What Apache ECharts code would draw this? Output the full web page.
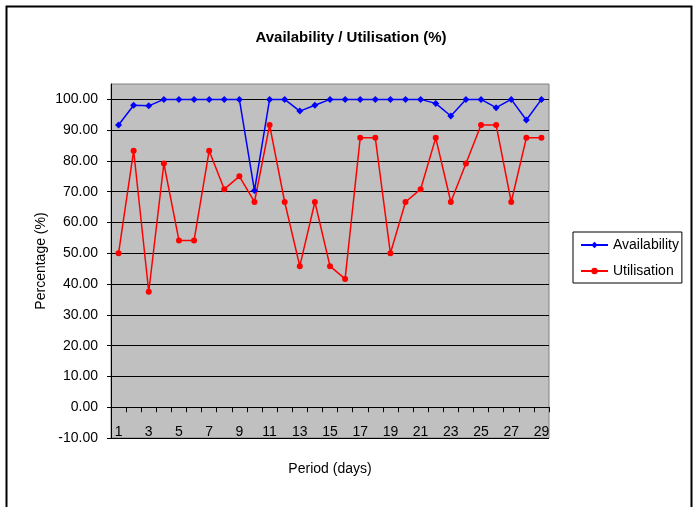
<!DOCTYPE html>
<html><head><meta charset="utf-8">
<script src="https://cdn.jsdelivr.net/npm/echarts@6/dist/echarts.min.js"></script>
<style>html,body{margin:0;padding:0;background:#fff}#c{width:698px;height:507px}</style>
</head><body><div id="c"></div>
<script>
const periods = ['1','2','3','4','5','6','7','8','9','10','11','12','13','14','15','16','17','18','19','20','21','22','23','24','25','26','27','28','29'];
const availability = [91.67,98.1,97.9,100,100,100,100,100,100,70.4,100,100,96.2,98.1,100,100,100,100,100,100,100,98.7,94.6,100,100,97.3,100,93.3,100];
const utilisation = [50.0,83.33,37.5,79.17,54.17,54.17,83.33,70.83,75.0,66.67,91.67,66.67,45.83,66.67,45.83,41.67,87.5,87.5,50.0,66.67,70.83,87.5,66.67,79.17,91.67,91.67,66.67,87.5,87.5];
const yMin = -10, yMax = 105, yStep = 10;

const FONT = '"Liberation Sans", Arial, sans-serif';
const chart = echarts.init(document.getElementById('c'));
chart.setOption({
  animation: false,
  backgroundColor: '#fff',
  title: {
    text: 'Availability / Utilisation (%)',
    left: 346, top: 25, textAlign: 'center',
    textStyle: {fontFamily: FONT, fontSize: 15, fontWeight: 'bold', color: '#000'}
  },
  graphic: [{
    type: 'rect', left: 4, top: 4, z: 100,
    shape: {width: 685, height: 530},
    style: {fill: 'none', stroke: '#000', lineWidth: 2}
  }],
  legend: {
    orient: 'vertical', left: 573, top: 232,
    borderColor: '#000', borderWidth: 1, padding: [6, 3, 5, 7],
    itemGap: 12, itemWidth: 27, itemHeight: 8,
    textStyle: {fontFamily: FONT, fontSize: 14, color: '#000'},
    data: ['Availability', 'Utilisation']
  },
  grid: {
    left: 111, top: 84, width: 438, height: 354,
    outerBoundsMode: 'none',
    show: true, backgroundColor: '#C0C0C0', borderColor: '#808080', borderWidth: 1
  },
  xAxis: {
    type: 'category', data: periods, boundaryGap: true,
    name: 'Period (days)', nameLocation: 'middle', nameGap: 24, nameMoveOverlap: false,
    nameTextStyle: {fontFamily: FONT, fontSize: 14, color: '#000'},
    axisLine: {onZero: true, lineStyle: {color: '#000', width: 1}},
    axisTick: {show: true, interval: 0, length: 5, lineStyle: {color: '#000'}},
    axisLabel: {interval: 1, margin: -13, fontFamily: FONT, fontSize: 14, color: '#000'},
    splitLine: {show: false}
  },
  yAxis: {
    type: 'value', min: yMin, max: yMax, interval: yStep,
    name: 'Percentage (%)', nameLocation: 'middle', nameGap: 63, nameRotate: 90, nameMoveOverlap: false,
    nameTextStyle: {fontFamily: FONT, fontSize: 14, color: '#000'},
    axisLine: {show: true, lineStyle: {color: '#000', width: 1}},
    axisTick: {show: true, length: 4, lineStyle: {color: '#000'}},
    axisLabel: {
      showMaxLabel: false, margin: 13, fontFamily: FONT, fontSize: 14, color: '#000',
      formatter: v => (v > 100 ? '' : v.toFixed(2))
    },
    splitLine: {show: true, showMaxLine: false, lineStyle: {color: '#000', width: 1}}
  },
  series: [
    {
      name: 'Availability', type: 'line', data: availability,
      symbol: 'diamond', symbolSize: 7,
      lineStyle: {color: '#0000FF', width: 1.5},
      itemStyle: {color: '#0000FF'}
    },
    {
      name: 'Utilisation', type: 'line', data: utilisation,
      symbol: 'circle', symbolSize: 6,
      lineStyle: {color: '#FF0000', width: 1.5},
      itemStyle: {color: '#FF0000'}
    }
  ]
});
</script>
</body></html>
